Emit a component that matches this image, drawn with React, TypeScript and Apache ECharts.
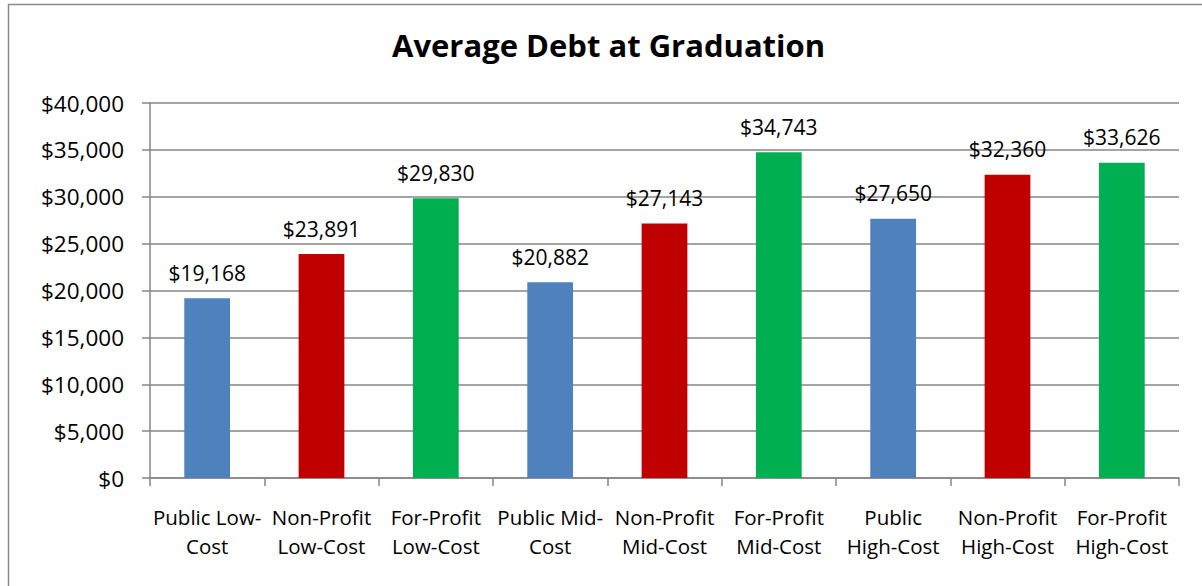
import React, { useEffect, useRef } from "react";
import * as echarts from "echarts";

const categories = [
  "Public Low-\nCost",
  "Non-Profit\nLow-Cost",
  "For-Profit\nLow-Cost",
  "Public Mid-\nCost",
  "Non-Profit\nMid-Cost",
  "For-Profit\nMid-Cost",
  "Public\nHigh-Cost",
  "Non-Profit\nHigh-Cost",
  "For-Profit\nHigh-Cost",
];
const debtValues = [19168, 23891, 29830, 20882, 27143, 34743, 27650, 32360, 33626];
const barColors = ["#4F81BD", "#C00000", "#00B050"];
const titleText = "Average Debt at Graduation";

const FONT = "'Open Sans', sans-serif";

const fmt = (v: number) => "$" + v.toLocaleString("en-US");

export default function App() {
  const ref = useRef<HTMLDivElement>(null);
  useEffect(() => {
    const chart = echarts.init(ref.current!, null, { renderer: "svg" });
    chart.setOption({
      animation: false,
      backgroundColor: "#ffffff",
      title: {
        text: titleText,
        left: 392,
        top: 29,
        padding: 0,
        textStyle: { fontFamily: FONT, fontWeight: "bold", fontSize: 31, color: "#000" },
      },
      graphic: [
        {
          type: "rect",
          shape: { x: 8.5, y: 4.5, width: 1210, height: 600 },
          style: { fill: "none", stroke: "#8a8a8a", lineWidth: 1.5 },
          silent: true,
        },
      ],
      grid: { left: 150, right: 23, top: 103, bottom: 108 },
      xAxis: {
        type: "category",
        data: categories,
        axisLine: { show: true, lineStyle: { color: "#868686", width: 1.5 } },
        axisTick: { show: true, alignWithLabel: false, length: 8, lineStyle: { color: "#868686", width: 1.5 } },
        axisLabel: {
          interval: 0,
          fontFamily: FONT,
          fontSize: 20.5,
          color: "#000",
          lineHeight: 29,
          margin: 24,
        },
      },
      yAxis: {
        type: "value",
        min: 0,
        max: 40000,
        interval: 5000,
        axisLine: { show: true, lineStyle: { color: "#868686", width: 1.5 } },
        axisTick: { show: true, length: 8, lineStyle: { color: "#868686", width: 1.5 } },
        splitLine: { show: true, lineStyle: { color: "#868686", width: 1.5 } },
        axisLabel: {
          fontFamily: FONT,
          fontSize: 22.5,
          color: "#000",
          margin: 26,
          formatter: (v: number) => fmt(v),
        },
      },
      series: [
        {
          type: "bar",
          barWidth: "40%",
          data: debtValues.map((v, i) => ({
            value: v,
            itemStyle: { color: barColors[i % 3] },
          })),
          label: {
            show: true,
            position: "top",
            distance: 15,
            fontFamily: FONT,
            fontSize: 21,
            color: "#000",
            formatter: (p: any) => fmt(p.value),
          },
        },
      ],
    });
    return () => chart.dispose();
  }, []);
  return (
    <div
      ref={ref}
      style={{ position: "absolute", left: 0, top: 0, width: 1202, height: 586 }}
    />
  );
}
